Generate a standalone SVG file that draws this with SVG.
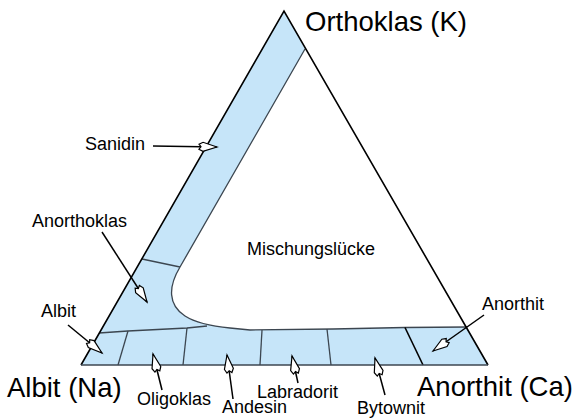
<svg xmlns="http://www.w3.org/2000/svg" width="576" height="418" viewBox="0 0 576 418">
<style>
.big{font-family:"Liberation Sans",Arial,sans-serif;font-size:27.5px;fill:#000}
.lbl{font-family:"Liberation Sans",Arial,sans-serif;font-size:18px;fill:#000}
.edge{stroke:#000;stroke-width:1.6;fill:none}
.inner{stroke:#3c4650;stroke-width:1.3;fill:none}
.arrow{stroke:#000;stroke-width:1.5;fill:none;marker-end:url(#head)}
</style>
<defs>
<marker id="head" markerUnits="userSpaceOnUse" markerWidth="22" markerHeight="14" refX="19" refY="7" orient="auto" overflow="visible">
<path d="M19,7 L5,2.5 L1,4.5 L3,7 L1,9.5 L5,11.5 Z" fill="#fff" stroke="#000" stroke-width="1.2" stroke-linejoin="miter"/>
</marker>
</defs>
<rect width="576" height="418" fill="#fff"/>
<g id="diagram">
<g id="feldspar-field">
<path d="M284,11 L81,365 L488,365 L467,327 L405,327.5 L333,329 L250,330 L230,328 C210,326 196,323 185,316 C168,305 168,287 180,267 L305,49 Z" fill="#c6e5f9" stroke="none"/>
<path class="inner" d="M305,49 L180,267 C168,287 168,305 185,316 C196,323 210,326 230,328 L250,330 L333,329 L405,327.5 L467,327"/>
<path class="inner" d="M99,333 L128,331 L187,328 L207,326"/>
<path class="inner" d="M142,259 L180,267"/>
<path class="inner" d="M128,331 L118,365"/>
<path class="inner" d="M187,328 L183,365"/>
<path class="inner" d="M262,330 L260,365"/>
<path class="inner" d="M327,329 L331,365"/>
<path d="M405,327.5 L423,365" stroke="#000" stroke-width="1.6" fill="none"/>
</g>
<g id="triangle">
<path class="edge" d="M81,365 L284,11 L488,365"/>
<path d="M81,365 L488,365" stroke="#3c4650" stroke-width="1.4" fill="none"/>
</g>
</g>
<g id="connectors">
<path class="arrow" d="M153,146 L217,147"/>
<path class="arrow" d="M102,232 L147,302"/>
<path class="arrow" d="M68,325 L102,353"/>
<path class="arrow" d="M162,390 L153,354"/>
<path class="arrow" d="M233,399 L227,355"/>
<path class="arrow" d="M298,383 L292,356"/>
<path class="arrow" d="M385,395 L375,358"/>
<path class="arrow" d="M484,315 L433,351"/>
</g>
<g id="node-orthoklas"><text class="big" x="305" y="31">Orthoklas (K)</text></g>
<g id="node-albit-na"><text class="big" x="7" y="397">Albit (Na)</text></g>
<g id="node-anorthit-ca"><text class="big" x="417" y="396">Anorthit (Ca)</text></g>
<g id="node-sanidin"><text class="lbl" x="85" y="150">Sanidin</text></g>
<g id="node-anorthoklas"><text class="lbl" x="32" y="227">Anorthoklas</text></g>
<g id="node-albit"><text class="lbl" x="41" y="317">Albit</text></g>
<g id="node-mischungsluecke"><text class="lbl" x="247" y="255">Mischungslücke</text></g>
<g id="node-anorthit"><text class="lbl" x="482" y="310">Anorthit</text></g>
<g id="node-oligoklas"><text class="lbl" x="137" y="405">Oligoklas</text></g>
<g id="node-andesin"><text class="lbl" x="222" y="413">Andesin</text></g>
<g id="node-labradorit"><text class="lbl" x="257" y="398">Labradorit</text></g>
<g id="node-bytownit"><text class="lbl" x="357" y="414">Bytownit</text></g>
</svg>
